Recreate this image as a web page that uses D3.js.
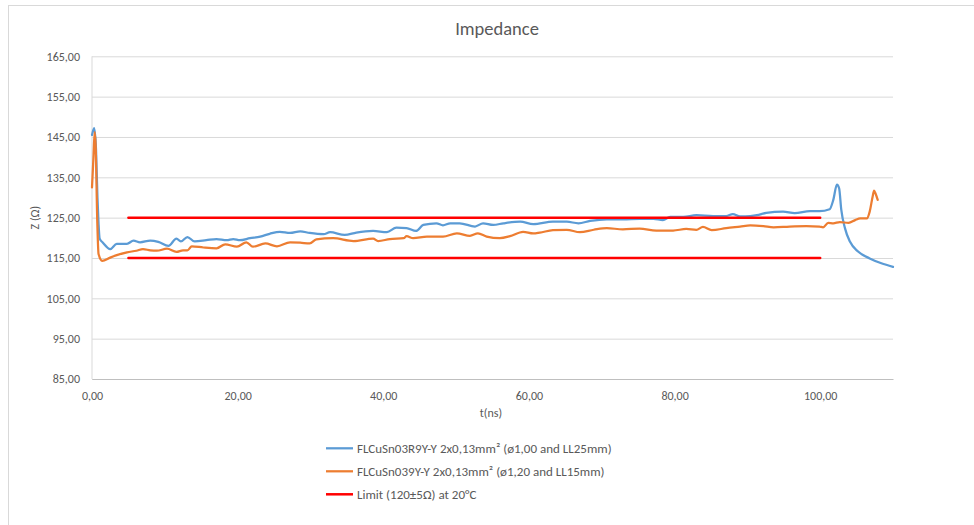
<!DOCTYPE html>
<html>
<head>
<meta charset="utf-8">
<script src="https://cdn.jsdelivr.net/npm/d3@7"></script>
<style>
  body { margin: 0; background: #fff; }
  text { font-family: Calibri, Carlito, Lato, sans-serif; fill: #595959; }
</style>
</head>
<body>
<div id="chart"></div>
<script>
// time axis (ns) and impedance (ohm)
const blueT = [0, 0.3, 0.55, 0.75, 0.9, 1.05, 1.5, 2.5, 3.4, 4.8, 5.7, 6.6, 8.0, 9.1, 10.5, 11.6, 12.2, 13.1, 14.1, 15.7, 17.1, 18.5, 19.4, 20.3, 21.7, 23.1, 24.4, 25.8, 27.2, 28.6, 29.9, 31.8, 32.7, 34.7, 36.3, 38.6, 40.5, 41.8, 43.2, 44.5, 45.5, 47.3, 48.2, 49.2, 50.5, 52.6, 53.7, 55.1, 56.5, 58.8, 60.6, 63.3, 65.2, 66.8, 68.4, 70.7, 72.9, 75.2, 77.1, 78.4, 79.4, 81.2, 83.0, 85.3, 87.1, 88.0, 89.0, 90.4, 91.3, 92.6, 94.9, 96.5, 98.6, 99.9, 101.3, 101.8, 102.3, 102.6, 102.9, 103.4, 104.1, 105.2, 106.8, 108.4, 110.0];
const blueZ = [145.5, 147.2, 142, 130, 123.5, 119.8, 118.8, 117.2, 118.5, 118.5, 119.3, 118.9, 119.3, 119.0, 118.0, 119.8, 119.1, 120.2, 119.1, 119.4, 119.7, 119.4, 119.7, 119.4, 119.9, 120.3, 121.0, 121.5, 121.2, 121.6, 121.2, 120.9, 121.4, 120.7, 121.3, 121.7, 121.4, 122.5, 122.4, 121.7, 123.2, 123.6, 123.1, 123.6, 123.6, 122.8, 123.6, 123.2, 123.6, 124.0, 123.4, 124.0, 124.0, 123.6, 124.2, 124.6, 124.6, 124.7, 124.7, 124.4, 125.2, 125.2, 125.6, 125.4, 125.4, 125.9, 125.3, 125.4, 125.6, 126.2, 126.5, 126.1, 126.6, 126.6, 127.1, 129.4, 133.2, 132.3, 126.9, 122.4, 119.0, 116.6, 114.9, 113.7, 112.8];

const orangeT = [0, 0.2, 0.37, 0.5, 0.73, 0.9, 1.4, 2.5, 3.4, 4.8, 6.1, 7.0, 8.0, 8.9, 10.3, 11.6, 12.5, 13.1, 13.7, 15.3, 17.1, 18.3, 19.9, 21.2, 22.1, 23.8, 25.4, 27.2, 28.6, 29.9, 30.8, 33.1, 35.9, 38.6, 39.3, 40.9, 42.8, 43.2, 44.1, 46.0, 48.2, 50.1, 51.9, 53.0, 54.2, 56.0, 57.4, 59.2, 60.6, 61.5, 63.3, 65.2, 67.0, 68.9, 70.7, 72.9, 75.2, 77.5, 79.8, 81.6, 83.0, 83.9, 85.1, 87.1, 89.0, 90.4, 92.2, 93.6, 95.8, 98.1, 99.9, 100.4, 101.1, 101.8, 102.7, 103.9, 104.8, 105.5, 106.4, 106.8, 107.2, 107.4, 107.6, 107.9];
const orangeZ = [132.5, 140, 146.2, 143, 123.6, 116, 114.3, 115.1, 115.7, 116.4, 116.8, 117.2, 116.9, 116.8, 117.3, 116.5, 116.9, 116.9, 117.9, 117.6, 117.4, 118.4, 117.8, 118.9, 117.8, 118.6, 117.9, 118.9, 118.8, 118.6, 119.6, 119.9, 119.2, 119.8, 119.2, 119.7, 119.9, 120.4, 119.9, 120.3, 120.3, 121.1, 120.5, 121.1, 120.3, 119.9, 120.4, 121.5, 121.1, 121.3, 121.9, 122.0, 121.4, 122.0, 122.4, 122.1, 122.3, 121.8, 121.8, 122.2, 122.0, 122.7, 121.9, 122.4, 122.8, 123.1, 122.9, 122.6, 122.8, 122.9, 122.8, 122.6, 123.7, 123.6, 123.9, 123.7, 124.4, 124.8, 124.8, 126.5, 130.2, 131.7, 131.0, 129.4];

const limitT = [5, 100];
const limitHigh = [125, 125];
const limitLow = [115, 115];

const yTicks = [85, 95, 105, 115, 125, 135, 145, 155, 165];
const xTicks = [0, 20, 40, 60, 80, 100];

const seriesNames = [
  "FLCuSn03R9Y-Y 2x0,13mm² (ø1,00 and LL25mm)",
  "FLCuSn039Y-Y 2x0,13mm² (ø1,20 and LL15mm)",
  "Limit (120±5Ω) at 20°C"
];
const seriesColors = ["#5b9bd5", "#ed7d31", "#ff0000"];

const W = 974, H = 525;
const plot = { left: 92, right: 893, top: 56.3, bottom: 379 };

const svg = d3.select("#chart")
  .append("svg")
  .attr("width", W)
  .attr("height", H);

// chart frame
svg.append("rect")
  .attr("x", 8.5).attr("y", 5.5)
  .attr("width", 1200).attr("height", 1200)
  .attr("fill", "none")
  .attr("stroke", "#d9d9d9");

const x = d3.scaleLinear().domain([0, 110]).range([plot.left, plot.right]);
const y = d3.scaleLinear().domain([85, 165]).range([plot.bottom, plot.top]);

const fmt = d => d.toFixed(2).replace(".", ",");

// y axis + gridlines
const gy = svg.append("g")
  .attr("transform", `translate(${plot.left},0)`)
  .call(d3.axisLeft(y).tickValues(yTicks).tickFormat(fmt)
    .tickSize(-(plot.right - plot.left)).tickPadding(12));
gy.select(".domain").remove();
gy.selectAll(".tick line").attr("stroke", "#d9d9d9");
gy.selectAll(".tick text").style("font-size", "12px").attr("fill", "#595959");

// left axis line
svg.append("line")
  .attr("x1", plot.left).attr("x2", plot.left)
  .attr("y1", plot.top).attr("y2", plot.bottom)
  .attr("stroke", "#d9d9d9");

// x axis
const gx = svg.append("g")
  .attr("transform", `translate(0,${plot.bottom})`)
  .call(d3.axisBottom(x).tickValues(xTicks).tickFormat(fmt).tickSize(0).tickPadding(12));
gx.select(".domain").attr("stroke", "#bfbfbf");
gx.selectAll(".tick text").style("font-size", "12px").attr("fill", "#595959");

// titles
svg.append("text")
  .attr("x", 497).attr("y", 28)
  .attr("text-anchor", "middle")
  .attr("dominant-baseline", "central")
  .style("font-size", "18.5px")
  .text("Impedance");

svg.append("text")
  .attr("transform", `translate(35,${(plot.top + plot.bottom) / 2}) rotate(-90)`)
  .attr("text-anchor", "middle")
  .attr("dominant-baseline", "central")
  .style("font-size", "12px")
  .text("Z (Ω)");

svg.append("text")
  .attr("x", 491).attr("y", 413)
  .attr("text-anchor", "middle")
  .attr("dominant-baseline", "central")
  .style("font-size", "12px")
  .text("t(ns)");

// lines
const line = d3.line()
  .x(d => x(d[0]))
  .y(d => y(d[1]))
  .curve(d3.curveMonotoneX);

const series = [
  { pts: d3.zip(blueT, blueZ), color: seriesColors[0], w: 2.25 },
  { pts: d3.zip(orangeT, orangeZ), color: seriesColors[1], w: 2.25 },
  { pts: d3.zip(limitT, limitHigh), color: seriesColors[2], w: 2.5 },
  { pts: d3.zip(limitT, limitLow), color: seriesColors[2], w: 2.5 }
];

svg.append("g")
  .selectAll("path")
  .data(series)
  .join("path")
  .attr("d", d => line(d.pts))
  .attr("fill", "none")
  .attr("stroke", d => d.color)
  .attr("stroke-width", d => d.w)
  .attr("stroke-linejoin", "round")
  .attr("stroke-linecap", "round");

// legend
const legend = svg.append("g")
  .selectAll("g")
  .data(seriesNames)
  .join("g")
  .attr("transform", (d, i) => `translate(326,${448.3 + i * 23})`);

legend.append("line")
  .attr("x1", 0).attr("x2", 27)
  .attr("stroke", (d, i) => seriesColors[i])
  .attr("stroke-width", (d, i) => i == 2 ? 2.5 : 2.25);

legend.append("text")
  .attr("x", 31)
  .attr("dominant-baseline", "central")
  .style("font-size", "13px")
  .text(d => d);
</script>
</body>
</html>
